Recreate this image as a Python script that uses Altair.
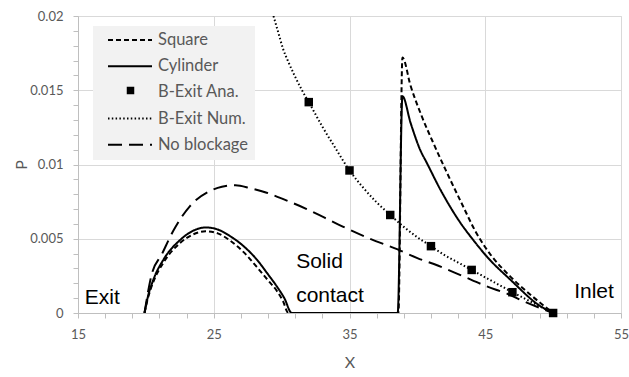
import altair as alt
import pandas as pd

names = ["Square", "Cylinder", "B-Exit Ana.", "B-Exit Num.", "No blockage"]
dashes = [[5, 3], [1, 0], [0, 100], [1.5, 2.3], [14, 7]]

# Square (short dash)
sq_x = [19.9, 20.15, 20.55, 21.3, 22.5, 23.5, 24.4, 25.3, 26.2, 27.2, 28.17, 29.0, 29.64, 30.1, 30.5,
        38.6, 38.9, 39.5, 40.3, 41.1, 42.1, 43.2, 44.4, 45.5, 46.8, 48.5, 50.0]
sq_y = [0, 0.0010, 0.0021, 0.0034, 0.0047, 0.0053, 0.0055, 0.00536, 0.00488, 0.0041, 0.0031, 0.0022, 0.0015, 0.0008, 0,
        0, 0.0172, 0.0153, 0.0133, 0.0116, 0.0096, 0.0075, 0.0053, 0.0038, 0.0025, 0.0011, 0]

# Cylinder (solid)
cyl_x = [19.9, 20.15, 20.55, 21.3, 22.5, 23.5, 24.45, 25.3, 26.2, 27.2, 28.17, 29.0, 29.64, 30.2, 30.75,
         38.55, 38.9, 39.5, 40.2, 40.7, 41.7, 43.15, 44.13, 45.12, 46.9, 49.0, 50.0]
cyl_y = [0, 0.0011, 0.00224, 0.0036, 0.0049, 0.00555, 0.00576, 0.00562, 0.00518, 0.0045, 0.0036, 0.0026, 0.0018, 0.0010, 0,
         0, 0.0146, 0.0128, 0.0110, 0.0101, 0.0083, 0.0061, 0.0049, 0.0038, 0.0022, 0.0005, 0]

# B-Exit analytical (markers)
ana_x = [32, 35, 38, 41, 44, 47, 50]
ana_y = [0.0142, 0.0096, 0.0066, 0.0045, 0.0029, 0.0014, 0]

# B-Exit numerical (dotted)
num_x = [29.4, 29.75, 30.1, 30.5, 31.0, 31.5, 32, 33, 34, 35, 36, 37, 38, 39, 40, 41, 42, 43, 44, 45, 46, 47, 48, 49, 50]
num_y = [0.0200, 0.0189, 0.0178, 0.0169, 0.0159, 0.0150, 0.0142, 0.01255, 0.01105, 0.0096, 0.00845, 0.00745, 0.0066,
         0.0058, 0.0051, 0.0045, 0.0039, 0.0034, 0.0029, 0.0024, 0.0019, 0.0014, 0.00093, 0.00046, 0]

# No blockage (long dash)
nb_x = [19.9, 20.4, 21.2, 22.0, 23.25, 24.7, 25.6, 26.6, 27.7, 28.9, 30.3, 31.85, 33.2, 34.55, 36.5, 38.5,
        40.0, 41.5, 43.3, 45.1, 46.6, 48.06, 50.0]
nb_y = [0, 0.0025, 0.0040, 0.0055, 0.0072, 0.0082, 0.0085, 0.0086, 0.0084, 0.0081, 0.0076, 0.0070, 0.0064, 0.0058,
        0.0050, 0.0043, 0.0037, 0.0032, 0.0025, 0.0018, 0.0013, 0.0007, 0]

lab_text = ["Exit", "Solid", "contact", "Inlet"]
lab_x = [15.5, 31.07, 31.07, 51.55]
lab_y = [0.00063, 0.00305, 0.00076, 0.00103]

x_ticks = list(range(15, 56, 2))
y_ticks = [round(i * 0.001, 3) for i in range(21)]

rows = []
for nm, xs, ys in [("Square", sq_x, sq_y), ("Cylinder", cyl_x, cyl_y),
                   ("B-Exit Num.", num_x, num_y), ("No blockage", nb_x, nb_y)]:
    for xv, yv in zip(xs, ys):
        rows.append({"x": xv, "y": yv, "series": nm})
lines_df = pd.DataFrame(rows)
pts_df = pd.DataFrame({"x": ana_x, "y": ana_y, "series": "B-Exit Ana."})
lab_df = pd.DataFrame({"x": lab_x, "y": lab_y, "text": lab_text})

grey_txt = "#595959"
grid_c = "#d9d9d9"

x_axis = alt.Axis(
    values=x_ticks, title="X", labelExpr="(datum.value - 15) % 10 === 0 ? datum.label : ''",
    grid=True, gridColor=grid_c,
    gridOpacity={"condition": {"test": "(datum.value - 15) % 10 === 0", "value": 1}, "value": 0},
    tickColor="#bfbfbf", tickSize=5, domainColor="#bfbfbf",
    labelFont="Lato", labelFontSize=13, labelColor=grey_txt, labelPadding=10,
    labelFlush=False, labelOverlap=False,
    titleFont="Lato", titleFontSize=16, titleColor=grey_txt, titleFontWeight="normal", titlePadding=13,
)
y_axis = alt.Axis(
    values=y_ticks, title="P", labelExpr="round(datum.value * 1000) % 5 === 0 ? datum.value + '' : ''",
    grid=True, gridColor=grid_c,
    gridOpacity={"condition": {"test": "round(datum.value * 1000) % 5 === 0", "value": 1}, "value": 0},
    tickColor="#bfbfbf", tickSize=5, domainColor="#bfbfbf",
    labelFont="Lato", labelFontSize=13, labelColor=grey_txt, labelPadding=10,
    labelFlush=False, labelOverlap=False,
    titleFont="Lato", titleFontSize=16, titleColor=grey_txt, titleFontWeight="normal", titlePadding=0,
)
xs_ = alt.Scale(domain=[15, 55], nice=False, zero=False)
ys_ = alt.Scale(domain=[0, 0.02], nice=False)

line_legend = alt.Legend(
    title=None, orient="none", legendX=15, legendY=10, fillColor="#f2f2f2", padding=6,
    rowPadding=9.2, clipHeight=16, symbolOffset=8, labelOffset=5, symbolSize=1936,
    symbolType="stroke", symbolStrokeWidth=2, symbolStrokeColor="black",
    labelFont="Lato", labelFontSize=16.5, labelColor=grey_txt, labelLimit=200, zindex=0,
)
marker_legend = alt.Legend(
    title=None, orient="none", legendX=48.5, legendY=70.4, padding=0, clipHeight=8,
    symbolSize=64, symbolType="square", symbolFillColor="black", symbolStrokeColor="black",
    symbolStrokeWidth=0, labelFontSize=8, labelExpr="''", labelOffset=0, zindex=1,
)

lines = alt.Chart(lines_df).mark_line(color="black", strokeWidth=2, interpolate="monotone", clip=True).encode(
    x=alt.X("x:Q", scale=xs_, axis=x_axis),
    y=alt.Y("y:Q", scale=ys_, axis=y_axis),
    strokeDash=alt.StrokeDash("series:N", scale=alt.Scale(domain=names, range=dashes), legend=line_legend),
    detail="series:N",
)
points = alt.Chart(pts_df).mark_point(filled=True, color="black", opacity=1, size=72).encode(
    x=alt.X("x:Q", scale=xs_, axis=x_axis),
    y=alt.Y("y:Q", scale=ys_, axis=y_axis),
    shape=alt.Shape("series:N", scale=alt.Scale(domain=["B-Exit Ana."], range=["square"]),
                    legend=marker_legend),
)
texts = alt.Chart(lab_df).mark_text(font="Liberation Sans", fontSize=21, color="black", align="left",
                                    baseline="alphabetic").encode(
    x=alt.X("x:Q", scale=xs_, axis=x_axis),
    y=alt.Y("y:Q", scale=ys_, axis=y_axis),
    text="text:N",
)

chart = alt.layer(lines, points, texts).properties(
    width=543, height=297,
    autosize=alt.AutoSizeParams(type="none"),
    padding={"left": 78, "top": 16, "right": 8, "bottom": 64},
).configure_view(stroke=None).configure(background="white")

chart.save("out.html", embed_options={"renderer": "svg", "actions": False})
